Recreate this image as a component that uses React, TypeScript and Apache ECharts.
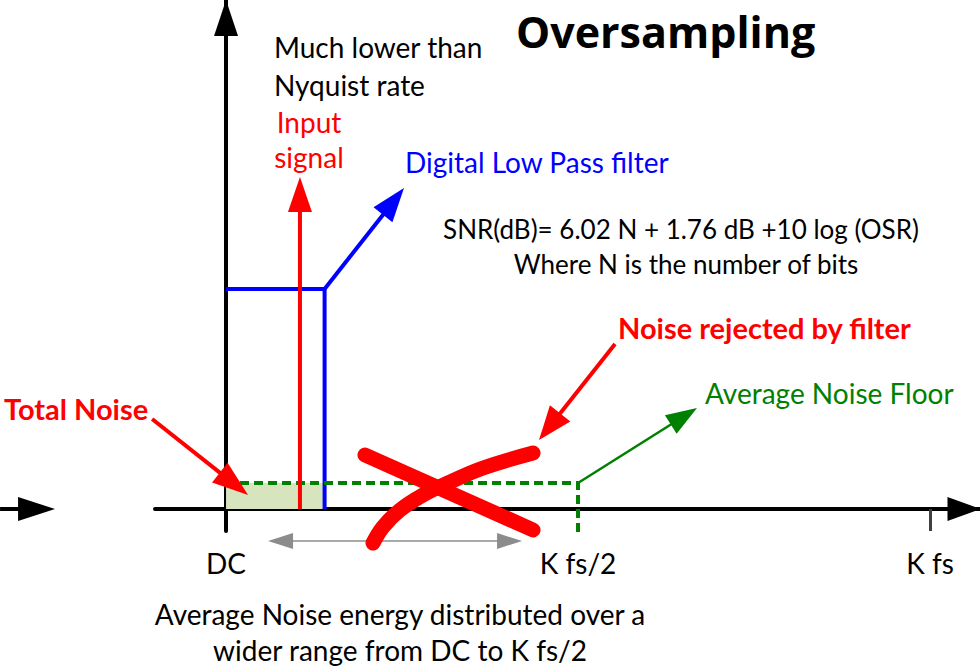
import React, { useEffect, useRef } from "react";
import * as echarts from "echarts";

// ---- Frequency axis (x in units of K fs, y in relative amplitude; filter pass-band gain = 1) ----
const X_MIN = -0.1009;
const X_MAX = 1.071;
const Y_MIN = -0.1;
const Y_MAX = 2.3136;

const freqTickValues = [0, 0.5, 1];
const freqTickLabels = ["DC", "K fs/2", "K fs"];
const freqMarkTicks = [1];

// Digital low-pass filter response (cut-off ~0.14 K fs)
const filterResponse: [number, number][] = [
  [0, 1],
  [0.14, 1],
  [0.14, 0],
];

// Average noise floor (dashed), spread DC..K fs/2
const noiseFloor: [number, number][] = [
  [0, 0.118],
  [0.5, 0.118],
  [0.5, -0.127],
];

// In-band noise kept by the filter (shaded)
const inBandNoise: [number, number][] = [
  [0, 0.118],
  [0.14, 0.118],
];

// Big red "X" over the rejected noise
const rejectStrokeA: [number, number][] = [
  [0.1974, 0.2455],
  [0.4361, -0.0955],
];
const rejectStrokeB: [number, number][] = [
  [0.2088, -0.1545],
  [0.223, -0.0818],
  [0.2472, -0.0045],
  [0.2798, 0.0636],
  [0.3182, 0.1227],
  [0.3651, 0.1864],
  [0.4361, 0.2545],
];

// Arrows: [x1, y1, x2, y2]
const arrowNames = [
  "input signal",
  "filter label",
  "noise floor label",
  "total noise label",
  "rejected noise label",
  "noise spread",
  "left axis arrow",
];
const arrowSegments: number[][] = [
  [0.105, 0, 0.105, 1.509],
  [0.14, 1.0, 0.2528, 1.459],
  [0.5, 0.118, 0.669, 0.459],
  [-0.105, 0.409, 0.0313, 0.0636],
  [0.5526, 0.75, 0.4446, 0.3136],
  [0.0597, -0.1455, 0.4205, -0.1455],
  [-0.321, 0, -0.2429, 0],
];

const RED = "#ff0000";
const BLUE = "#0000ff";
const GREEN = "#008000";
const FONT = "Lato, 'Open Sans', sans-serif";
const TITLE_FONT = "'Open Sans', Lato, sans-serif";

const arrowStyles = [
  { color: RED, lw: 4, len: 35, w: 24, both: false },
  { color: BLUE, lw: 4, len: 34, w: 24, both: false },
  { color: GREEN, lw: 2.5, len: 31, w: 22, both: false },
  { color: RED, lw: 4, len: 36, w: 25, both: false },
  { color: RED, lw: 4, len: 34, w: 26, both: false },
  { color: "#8c8c8c", lw: 1.5, len: 25, w: 16, both: true },
  { color: "#000000", lw: 4, len: 37, w: 24, both: false },
];

export default function App() {
  const ref = useRef<HTMLDivElement>(null);

  useEffect(() => {
    document.body.style.margin = "0";
    if (!ref.current) return;
    const chart = echarts.init(ref.current, undefined, { renderer: "svg" });

    const renderArrow = (params: any, api: any) => {
      const s = arrowStyles[params.dataIndex];
      const p1 = api.coord([api.value(0), api.value(1)]);
      const p2 = api.coord([api.value(2), api.value(3)]);
      const dx = p2[0] - p1[0];
      const dy = p2[1] - p1[1];
      const L = Math.hypot(dx, dy) || 1;
      const ux = dx / L;
      const uy = dy / L;
      const nx = -uy;
      const ny = ux;
      const head = (tip: number[], dirx: number, diry: number) => {
        const bx = tip[0] - dirx * s.len;
        const by = tip[1] - diry * s.len;
        return {
          type: "polygon",
          shape: {
            points: [
              [tip[0], tip[1]],
              [bx + (nx * s.w) / 2, by + (ny * s.w) / 2],
              [bx - (nx * s.w) / 2, by - (ny * s.w) / 2],
            ],
          },
          style: { fill: s.color },
        };
      };
      const start = s.both ? [p1[0] + ux * s.len * 0.8, p1[1] + uy * s.len * 0.8] : p1;
      const end = [p2[0] - ux * s.len * 0.8, p2[1] - uy * s.len * 0.8];
      const children: any[] = [
        {
          type: "line",
          shape: { x1: start[0], y1: start[1], x2: end[0], y2: end[1] },
          style: { stroke: s.color, lineWidth: s.lw },
        },
        head(p2, ux, uy),
      ];
      if (s.both) children.push(head(p1, -ux, -uy));
      return { type: "group", children };
    };

    const txt = (
      text: string,
      x: number,
      y: number,
      opts: { color?: string; size?: number; bold?: boolean; align?: string; font?: string } = {}
    ) => {
      const size = opts.size || 28;
      return {
        type: "text",
        x,
        y,
        z: 100,
        style: {
          text,
          fill: opts.color || "#000",
          fontSize: size,
          lineHeight: size,
          fontFamily: opts.font || FONT,
          fontWeight: opts.bold ? "bold" : "normal",
          align: opts.align || "left",
          verticalAlign: "middle",
        },
      };
    };

    chart.setOption({
      animation: false,
      backgroundColor: "#ffffff",
      grid: {
        left: 155,
        right: 0,
        top: 0,
        bottom: 136,
        containLabel: false,
        outerBoundsMode: "none",
      },
      xAxis: {
        type: "value",
        min: X_MIN,
        max: X_MAX,
        splitLine: { show: false },
        axisLine: {
          onZero: true,
          lineStyle: { color: "#000", width: 4, cap: "round" },
          symbol: ["none", "triangle"],
          symbolSize: [24, 33],
          symbolOffset: [0, -16],
        },
        axisTick: {
          show: true,
          customValues: freqMarkTicks,
          length: 22,
          lineStyle: { color: "#404040", width: 3 },
        },
        axisLabel: {
          show: true,
          customValues: freqTickValues,
          formatter: (v: number) => {
            const i = freqTickValues.findIndex((t) => Math.abs(t - v) < 1e-9);
            return i >= 0 ? freqTickLabels[i] : "";
          },
          margin: 32,
          verticalAlign: "middle",
          color: "#000",
          fontSize: 28,
          fontFamily: FONT,
        },
      },
      yAxis: {
        type: "value",
        min: Y_MIN,
        max: Y_MAX,
        splitLine: { show: false },
        axisTick: { show: false },
        axisLabel: { show: false },
        axisLine: {
          onZero: true,
          lineStyle: { color: "#000", width: 4, cap: "round" },
          symbol: ["none", "triangle"],
          symbolSize: [24, 36],
          symbolOffset: [0, -18],
        },
      },
      series: [
        {
          name: "In-band noise",
          type: "line",
          data: inBandNoise,
          symbol: "none",
          clip: false,
          lineStyle: { width: 0 },
          areaStyle: { color: "#d7e4bd", opacity: 1 },
          z: 1,
        },
        {
          name: "Digital low pass filter",
          type: "line",
          data: filterResponse,
          symbol: "none",
          clip: false,
          lineStyle: { color: BLUE, width: 4 },
          z: 3,
        },
        {
          name: "Average noise floor",
          type: "line",
          data: noiseFloor,
          symbol: "none",
          clip: false,
          lineStyle: { color: GREEN, width: 4, type: [9, 5] },
          z: 3,
        },
        {
          name: "Arrows",
          type: "custom",
          clip: false,
          encode: { x: [0, 2], y: [1, 3] },
          data: arrowSegments.map((v, i) => ({ name: arrowNames[i], value: v })),
          renderItem: renderArrow,
          z: 4,
        },
        {
          name: "Rejected A",
          type: "line",
          data: rejectStrokeA,
          symbol: "none",
          clip: false,
          lineStyle: { color: RED, width: 15, cap: "round" },
          z: 5,
        },
        {
          name: "Rejected B",
          type: "line",
          data: rejectStrokeB,
          symbol: "none",
          smooth: 0.4,
          clip: false,
          lineStyle: { color: RED, width: 15, cap: "round", join: "round" },
          z: 5,
        },
      ],
      graphic: [
        txt("Oversampling", 516, 31, { size: 43, bold: true, font: TITLE_FONT }),
        txt("Much lower than", 274, 47),
        txt("Nyquist rate", 274, 85),
        txt("Input", 309, 122, { color: RED, align: "center" }),
        txt("signal", 309, 157, { color: RED, align: "center" }),
        txt("Digital Low Pass filter", 405, 162, { color: BLUE }),
        txt("SNR(dB)= 6.02 N + 1.76 dB +10 log (OSR)", 681, 229, { align: "center", size: 26 }),
        txt("Where N is the number of bits", 686, 264, { align: "center", size: 26 }),
        txt("Noise rejected by filter", 618, 327, { color: RED, bold: true, size: 29 }),
        txt("Total Noise", 4, 408, { color: RED, bold: true, size: 29 }),
        txt("Average Noise Floor", 705, 393, { color: GREEN }),
        txt("Average Noise energy distributed over a", 400, 614, { align: "center" }),
        txt("wider range from DC to K fs/2", 400, 650, { align: "center" }),
      ],
    });

    return () => chart.dispose();
  }, []);

  return <div ref={ref} style={{ width: 980, height: 667 }} />;
}
